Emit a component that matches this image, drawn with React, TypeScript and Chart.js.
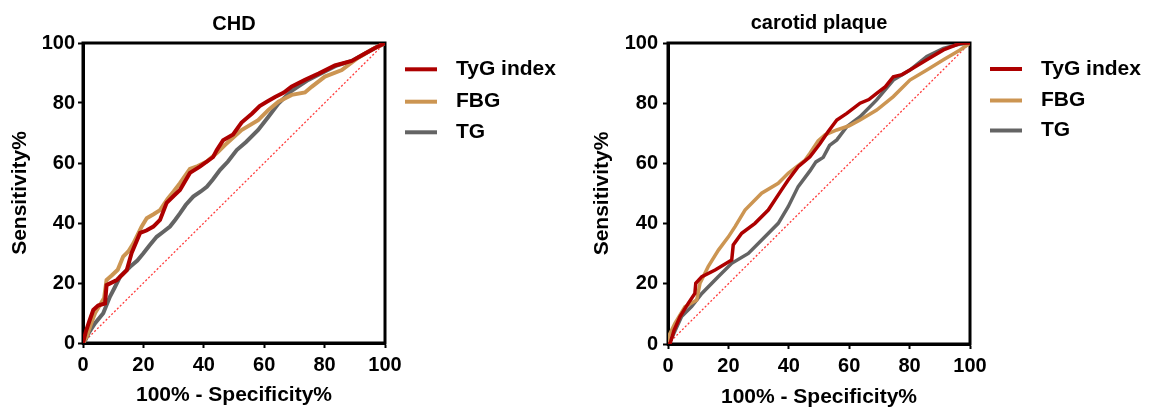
import React, { useEffect, useRef } from "react";
import { Chart, registerables } from "chart.js";

Chart.register(...registerables);

// ---------- Data ----------
const seriesNames = ["TyG index", "FBG", "TG"];
const xTicks = [0, 20, 40, 60, 80, 100];

// CHD panel
const chdTygX = [0, 1, 2, 3.4, 5, 7.3, 7.8, 11.2, 14.5, 16.1, 18.9, 21, 23.3, 25.5, 27.7, 30, 32.1, 35.4, 38.7, 43.1, 44.3, 46.4, 49.7, 52.5, 56, 58.5, 61, 63.6, 66.5, 69, 73.5, 78, 83.4, 89, 93.4, 97, 100];
const chdTygY = [0, 4, 7, 11, 12.5, 13.2, 19.3, 21, 24.3, 30, 36.7, 37.5, 38.8, 41, 46.7, 49, 51, 56.7, 58.8, 62, 64.3, 67.6, 69.5, 73.5, 76.5, 79, 80.5, 82, 83.5, 85.4, 87.7, 89.8, 92.5, 94, 96.5, 98.5, 100];
const chdFbgX = [0, 1.2, 2.5, 4, 5.5, 7, 7.8, 9.5, 11.5, 13.3, 15, 16.7, 19.4, 21.1, 23.5, 25.5, 28, 30, 32.1, 35.4, 38, 41, 44.5, 47, 52.5, 58, 61.4, 64.7, 69.1, 73.5, 75.7, 80.1, 85.7, 91, 96, 100];
const chdFbgY = [0, 2.1, 6, 10, 12.5, 15, 21, 22.5, 24.4, 28.8, 30.5, 33.2, 38.8, 41.6, 43, 44.3, 48, 50.5, 53.3, 58, 59, 60.5, 63.5, 66, 71, 74.3, 77.7, 80.4, 82.7, 83.5, 85.4, 88.8, 91, 95, 98, 100];
const chdTgX = [0, 0.7, 2, 4, 6.7, 8.9, 10.5, 12.3, 15.6, 18, 20, 22, 24.4, 26.5, 28.8, 30.5, 32.1, 34, 36.5, 39, 41, 43, 45.4, 48, 50.9, 54, 58, 61.4, 64.7, 69.1, 74.6, 80.1, 84, 89, 93.4, 97, 100];
const chdTgY = [0, 0.8, 3.5, 6.6, 9.9, 15.4, 18.5, 22.1, 25.4, 27.5, 29.9, 32.5, 35.4, 37, 38.8, 41, 43.2, 46, 48.8, 50.5, 52.1, 54.5, 57.7, 60.5, 64.3, 67, 71, 75.4, 79.8, 84.1, 87.7, 90.5, 92.5, 94, 96.5, 98.5, 100];

// Carotid plaque panel
const cpTygX = [0, 0.7, 2, 4, 6.7, 8.9, 9.2, 11.2, 15.6, 21.1, 21.6, 24.4, 28.8, 33.2, 37.6, 39.8, 43.1, 47, 50.3, 53, 55.9, 59.2, 63.6, 66.5, 69.1, 72, 74.6, 77.5, 80.1, 85.7, 91.2, 96.7, 100];
const cpTygY = [0, 0.2, 4.5, 9.1, 13.5, 16.8, 20.2, 22.4, 24.6, 27.9, 32.9, 36.8, 40.1, 44.5, 51.2, 54.5, 58.9, 62.2, 66.5, 70.5, 74.4, 76.6, 80, 81.2, 83.3, 85.5, 88.8, 89.5, 91, 94.4, 97.7, 99.9, 100];
const cpFbgX = [0, 0.1, 2.3, 5.6, 9.5, 10.6, 13.3, 16.7, 20, 22.2, 25.5, 31, 36.5, 39.8, 45.4, 47, 49.7, 52, 55.9, 60, 63.6, 69.1, 74.6, 80.1, 85.7, 91.2, 96.7, 100];
const cpFbgY = [0, 2.4, 6.9, 12.4, 14.6, 20.2, 25.7, 31.2, 35.6, 39, 44.5, 50.1, 53.4, 56.7, 61.1, 63.4, 67.5, 69.5, 71.1, 72.5, 74.4, 77.7, 82.2, 87.7, 91, 94.4, 97.7, 100];
const cpTgX = [0, 0.7, 4.5, 7.8, 11.2, 16.7, 21.1, 26.6, 32.1, 36.5, 39.8, 43.1, 47, 49, 51.4, 53.5, 55.9, 59.2, 63.6, 69.1, 74.6, 80.1, 85.7, 91.2, 96, 100];
const cpTgY = [0, 0.8, 9.1, 12.4, 16.8, 22.4, 26.8, 30.1, 35.6, 40.1, 45.6, 52.3, 57.5, 60.5, 62, 66, 67.8, 72.2, 75.5, 81.1, 87.7, 91, 95.5, 98.2, 99.5, 100];

const refX = [0, 100];
const refY = [0, 100];

// ---------- Styles ----------
const FONT_FAMILY = '"Liberation Sans", Arial, Helvetica, sans-serif';
const COLORS = ["#ad0000", "#cc9552", "#646464"];
const REF_COLOR = "#ff3b3b";

function toPoints(xs: number[], ys: number[]) {
  return xs.map((x, i) => ({ x, y: ys[i] }));
}

type PanelCfg = {
  title: string;
  titleY: number;
  series: [number[], number[]][];
  lineWidth: number;
  yAxisWidth: number;
  padRight: number;
  padTop: number;
  xAxisHeight: number;
  yTickPad: number;
  yTitlePad: number;
  xTitlePad: number;
  legendRows: number[];
};

const boxAndTextPlugin = (cfg: PanelCfg) => ({
  id: "boxAndText",
  beforeDatasetsDraw(chart: any) {
    const { ctx, chartArea } = chart;
    ctx.save();
    ctx.strokeStyle = "#000";
    ctx.lineWidth = 3;
    ctx.strokeRect(chartArea.left, chartArea.top, chartArea.right - chartArea.left, chartArea.bottom - chartArea.top);
    ctx.restore();
  },
  afterDraw(chart: any) {
    const { ctx, chartArea } = chart;
    ctx.save();
    // title
    ctx.fillStyle = "#000";
    ctx.font = `bold 20px ${FONT_FAMILY}`;
    ctx.textAlign = "center";
    ctx.textBaseline = "middle";
    ctx.fillText(cfg.title, (chartArea.left + chartArea.right) / 2, cfg.titleY);
    // legend
    ctx.font = `bold 21px ${FONT_FAMILY}`;
    ctx.textAlign = "left";
    seriesNames.forEach((name, i) => {
      const y = cfg.legendRows[i];
      ctx.strokeStyle = COLORS[i];
      ctx.lineWidth = 4;
      ctx.beginPath();
      ctx.moveTo(chartArea.right + 20, y);
      ctx.lineTo(chartArea.right + 52, y);
      ctx.stroke();
      ctx.fillStyle = "#000";
      ctx.fillText(name, chartArea.right + 71, y);
    });
    ctx.restore();
  },
});

function Panel({ cfg, left, width }: { cfg: PanelCfg; left: number; width: number }) {
  const ref = useRef<HTMLCanvasElement>(null);
  useEffect(() => {
    if (!ref.current) return;
    const datasets: any[] = cfg.series.map(([xs, ys], i) => ({
      label: seriesNames[i],
      data: toPoints(xs, ys),
      borderColor: COLORS[i],
      backgroundColor: COLORS[i],
      borderWidth: cfg.lineWidth,
      pointRadius: 0,
      tension: 0,
      borderJoinStyle: "miter",
      fill: false,
    }));
    datasets.push({
      label: "reference",
      data: toPoints(refX, refY),
      borderColor: REF_COLOR,
      borderWidth: 1.3,
      borderDash: [2, 2],
      pointRadius: 0,
      fill: false,
    });
    const tickFont = { family: FONT_FAMILY, size: 20, weight: "bold" as const };
    const titleFont = { family: FONT_FAMILY, size: 21, weight: "bold" as const };
    const chart = new Chart(ref.current, {
      type: "line",
      data: { datasets },
      options: {
        animation: false,
        responsive: false,
        devicePixelRatio: 1,
        layout: { padding: { left: 0, right: cfg.padRight, top: cfg.padTop, bottom: 0 } },
        plugins: { legend: { display: false }, tooltip: { enabled: false }, title: { display: false } },
        scales: {
          x: {
            type: "linear",
            min: 0,
            max: 100,
            afterBuildTicks: (s: any) => {
              s.ticks = xTicks.map((v) => ({ value: v }));
            },
            afterFit: (s: any) => {
              s.height = cfg.xAxisHeight;
            },
            ticks: { font: tickFont, color: "#000", padding: 5, autoSkip: false, maxRotation: 0 },
            grid: { display: true, drawOnChartArea: false, drawTicks: true, tickLength: 5, tickWidth: 2, tickColor: "#000" },
            border: { display: true, width: 3, color: "#000" },
            title: { display: true, text: "100% - Specificity%", font: titleFont, color: "#000", padding: { top: 0, bottom: cfg.xTitlePad } },
          },
          y: {
            type: "linear",
            min: 0,
            max: 100,
            afterBuildTicks: (s: any) => {
              s.ticks = xTicks.map((v) => ({ value: v }));
            },
            afterFit: (s: any) => {
              s.width = cfg.yAxisWidth;
            },
            ticks: { font: tickFont, color: "#000", padding: cfg.yTickPad },
            grid: { display: true, drawOnChartArea: false, drawTicks: true, tickLength: 5, tickWidth: 2, tickColor: "#000" },
            border: { display: true, width: 3, color: "#000" },
            title: { display: true, text: "Sensitivity%", font: titleFont, color: "#000", padding: { top: cfg.yTitlePad, bottom: 0 } },
          },
        },
      },
      plugins: [boxAndTextPlugin(cfg)],
    } as any);
    return () => chart.destroy();
  }, [cfg]);
  return (
    <canvas
      ref={ref}
      width={width}
      height={411}
      style={{ position: "absolute", left, top: 0, width, height: 411 }}
    />
  );
}

const chdCfg: PanelCfg = {
  title: "CHD",
  titleY: 24,
  series: [
    [chdTygX, chdTygY],
    [chdFbgX, chdFbgY],
    [chdTgX, chdTgY],
  ],
  lineWidth: 4,
  yAxisWidth: 83,
  padRight: 190,
  padTop: 43,
  xAxisHeight: 68,
  yTickPad: 3,
  yTitlePad: 7.5,
  xTitlePad: 3,
  legendRows: [69.3, 101.7, 132.3],
};

const cpCfg: PanelCfg = {
  title: "carotid plaque",
  titleY: 23.5,
  series: [
    [cpTygX, cpTygY],
    [cpFbgX, cpFbgY],
    [cpTgX, cpTgY],
  ],
  lineWidth: 3.5,
  yAxisWidth: 93,
  padRight: 181,
  padTop: 43,
  xAxisHeight: 67,
  yTickPad: 5,
  yTitlePad: 14.5,
  xTitlePad: 1.5,
  legendRows: [69, 100.5, 130.5],
};

export default function App() {
  return (
    <div style={{ position: "absolute", left: 0, top: 0, width: 1151, height: 411, background: "#fff" }}>
      <Panel cfg={chdCfg} left={0} width={575} />
      <Panel cfg={cpCfg} left={575} width={576} />
    </div>
  );
}
